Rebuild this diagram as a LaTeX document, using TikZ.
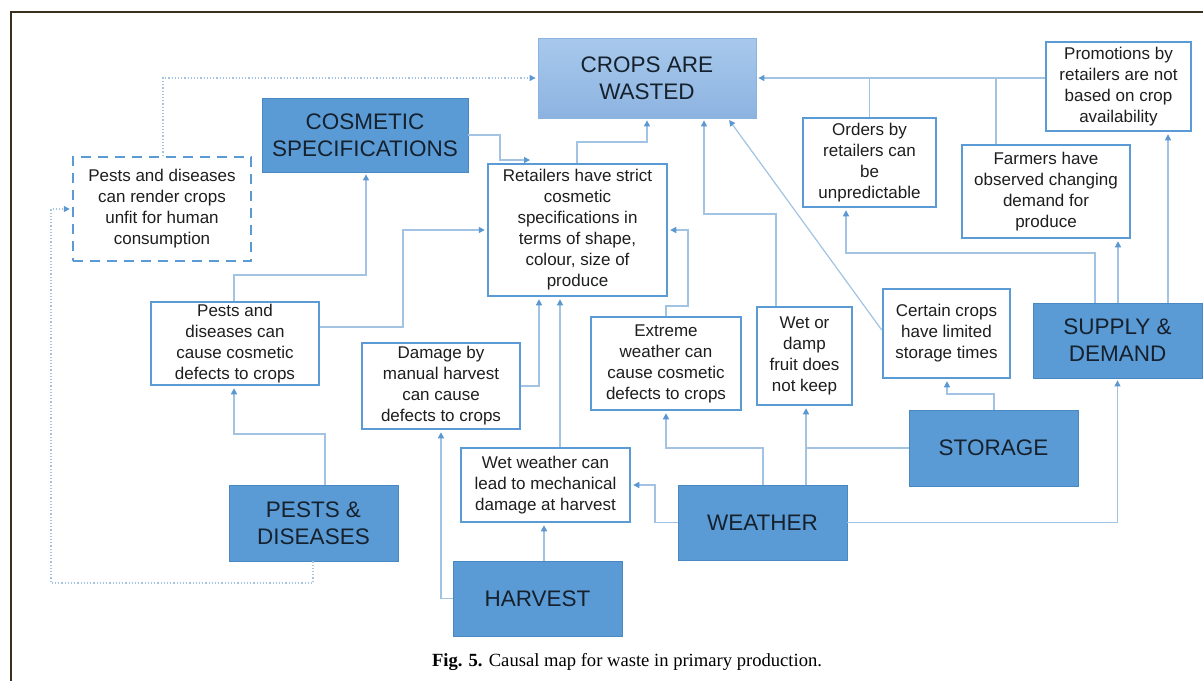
\documentclass[tikz,border=0pt]{standalone}
\usepackage{fontspec}
\setmainfont{Liberation Sans}
\newfontfamily\capfont{Liberation Serif}
\usetikzlibrary{arrows.meta}
\definecolor{bigfill}{HTML}{5B9BD5}
\definecolor{bigedge}{HTML}{4A88C2}
\definecolor{boxedge}{HTML}{5B9BD5}
\definecolor{linec}{HTML}{A3C3E2}
\definecolor{tipc}{HTML}{5B97D0}
\definecolor{bigtext}{HTML}{16212E}
\definecolor{smalltext}{HTML}{1E1E1E}
\definecolor{framec}{HTML}{3B2F1E}
\definecolor{croptop}{HTML}{A8C9EC}
\definecolor{cropbot}{HTML}{8CB3E0}
\tikzset{
  wbox/.style={draw=boxedge, line width=2.5pt, fill=white, inner sep=0pt, align=center,
    text=smalltext, font=\fontsize{17}{21}\selectfont},
  dbox/.style={wbox, dash pattern=on 10pt off 7pt},
  bigbox/.style={draw=bigedge, line width=0.8pt, fill=bigfill, inner sep=0pt, align=center,
    text=bigtext, font=\fontsize{22.5}{27}\selectfont},
  conn/.style={draw=linec, line width=1.2pt, -{Triangle[length=6pt,width=6pt,color=tipc]}, shorten >=2pt},
  plainconn/.style={draw=linec, line width=1.2pt},
  dconn/.style={conn, dotted}
}
\begin{document}
\begin{tikzpicture}[x=1pt,y=-1pt]
\useasboundingbox (0,0) rectangle (1203,681);
\fill[white] (0,0) rectangle (1203,681);
\draw[framec, line width=2.5pt] (11,681) -- (11,12) -- (1203,12);

% big boxes
\node[bigbox, draw=cropbot, top color=croptop, bottom color=cropbot, minimum width=218pt, minimum height=80pt] (crops) at (647,78) {CROPS ARE\\WASTED};
\node[bigbox, minimum width=206pt, minimum height=74pt] (cosm) at (365,135) {COSMETIC\\SPECIFICATIONS};
\node[bigbox, minimum width=169pt, minimum height=75pt] (supply) at (1117.5,340.5) {SUPPLY \&\\DEMAND};
\node[bigbox, minimum width=169pt, minimum height=76pt] (storage) at (993.5,448) {STORAGE};
\node[bigbox, minimum width=169pt, minimum height=75pt] (weather) at (762.5,522.5) {WEATHER};
\node[bigbox, minimum width=169pt, minimum height=75pt] (harvest) at (537.5,598.5) {HARVEST};
\node[bigbox, minimum width=169pt, minimum height=76pt] (pests) at (313.5,523) {PESTS \&\\DISEASES};

% white boxes
\node[dbox, minimum width=178pt, minimum height=104pt] (render) at (162,209) {Pests and diseases\\can render crops\\unfit for human\\consumption};
\node[wbox, minimum width=179pt, minimum height=132pt] (retail) at (577.5,230) {Retailers have strict\\cosmetic\\specifications in\\terms of shape,\\colour, size of\\produce};
\node[wbox, minimum width=133pt, minimum height=89pt] (orders) at (869.5,162.5) {Orders by\\retailers can\\be\\unpredictable};
\node[wbox, minimum width=168pt, minimum height=93pt] (farmers) at (1046,191.5) {Farmers have\\observed changing\\demand for\\produce};
\node[wbox, minimum width=145pt, minimum height=89pt] (promo) at (1118.5,86.5) {Promotions by\\retailers are not\\based on crop\\availability};
\node[wbox, minimum width=168pt, minimum height=83pt] (pestcos) at (235,343.5) {Pests and\\diseases can\\cause cosmetic\\defects to crops};
\node[wbox, minimum width=158pt, minimum height=86pt] (damage) at (441,386) {Damage by\\manual harvest\\can cause\\defects to crops};
\node[wbox, minimum width=150pt, minimum height=93pt] (extreme) at (666,363.5) {Extreme\\weather can\\cause cosmetic\\defects to crops};
\node[wbox, minimum width=95pt, minimum height=98pt] (wetdamp) at (804.5,356) {Wet or\\damp\\fruit does\\not keep};
\node[wbox, minimum width=127pt, minimum height=89pt] (certain) at (946.5,333.5) {Certain crops\\have limited\\storage times};
\node[wbox, minimum width=169pt, minimum height=74pt] (wetw) at (545.5,485) {Wet weather can\\lead to mechanical\\damage at harvest};

% caption
\node[font=\capfont\fontsize{18.6}{22}\selectfont, text=black, inner sep=0pt] (cap) at (627,662) {\textbf{Fig. 5.} Causal map for waste in primary production.};

\coordinate (rtop) at (532,160);

% connectors
\draw[dconn] (163,0 |- render.north) |- (crops.west);
\draw[dconn] (313,0 |- pests.south) -- (313,583) -| (51,209) -- (render.west);
\draw[conn] (cosm.east) -| (500,160) -- (rtop);
\draw[conn] (577,0 |- retail.north) |- (647,142) -- (crops.south);
\draw[conn] (234,0 |- pestcos.north) |- (366,275) -- (366,0 |- cosm.south);
\draw[conn] (325,0 |- pests.north) |- (234,434) -- (234,0 |- pestcos.south);
\draw[conn] (pestcos.east |- 0,327) -| (403,230) -- (retail.west);
\draw[conn] (damage.east) -| (539,0 |- retail.south);
\draw[conn] (560,0 |- wetw.north) -- (560,0 |- retail.south);
\draw[conn] (harvest.west) -| (damage.south);
\draw[conn] (544,0 |- harvest.north) -- (544,0 |- wetw.south);
\draw[conn] (weather.west) -| (655,485) -- (wetw.east);
\draw[conn] (763,0 |- weather.north) |- (666,448) -- (extreme.south);
\draw[conn] (806,0 |- weather.north) -- (806,0 |- wetdamp.south);
\draw[plainconn] (storage.west) -- (806,448);
\draw[conn] (994,0 |- storage.north) |- (947,394) -- (947,0 |- certain.south);
\draw[conn] (weather.east) -| (supply.south);
\draw[conn] (666,0 |- extreme.north) |- (688,306) |- (retail.east);
\draw[conn] (776,0 |- wetdamp.north) |- (704,214) -- (704,0 |- crops.south);
\draw[conn] (certain.west |- 0,330) -- (728,0 |- crops.south);
\draw[conn] (1095,0 |- supply.north) |- (846,253) -- (846,0 |- orders.south);
\draw[conn] (1118,0 |- supply.north) -- (1118,0 |- farmers.south);
\draw[conn] (1168,0 |- supply.north) -- (1168,0 |- promo.south);
\draw[conn] (promo.west |- crops.east) -- (crops.east);
\draw[plainconn] (orders.north) -- (orders.north |- crops.east);
\draw[plainconn] (996,0 |- farmers.north) -- (996,0 |- crops.east);
\end{tikzpicture}
\end{document}
